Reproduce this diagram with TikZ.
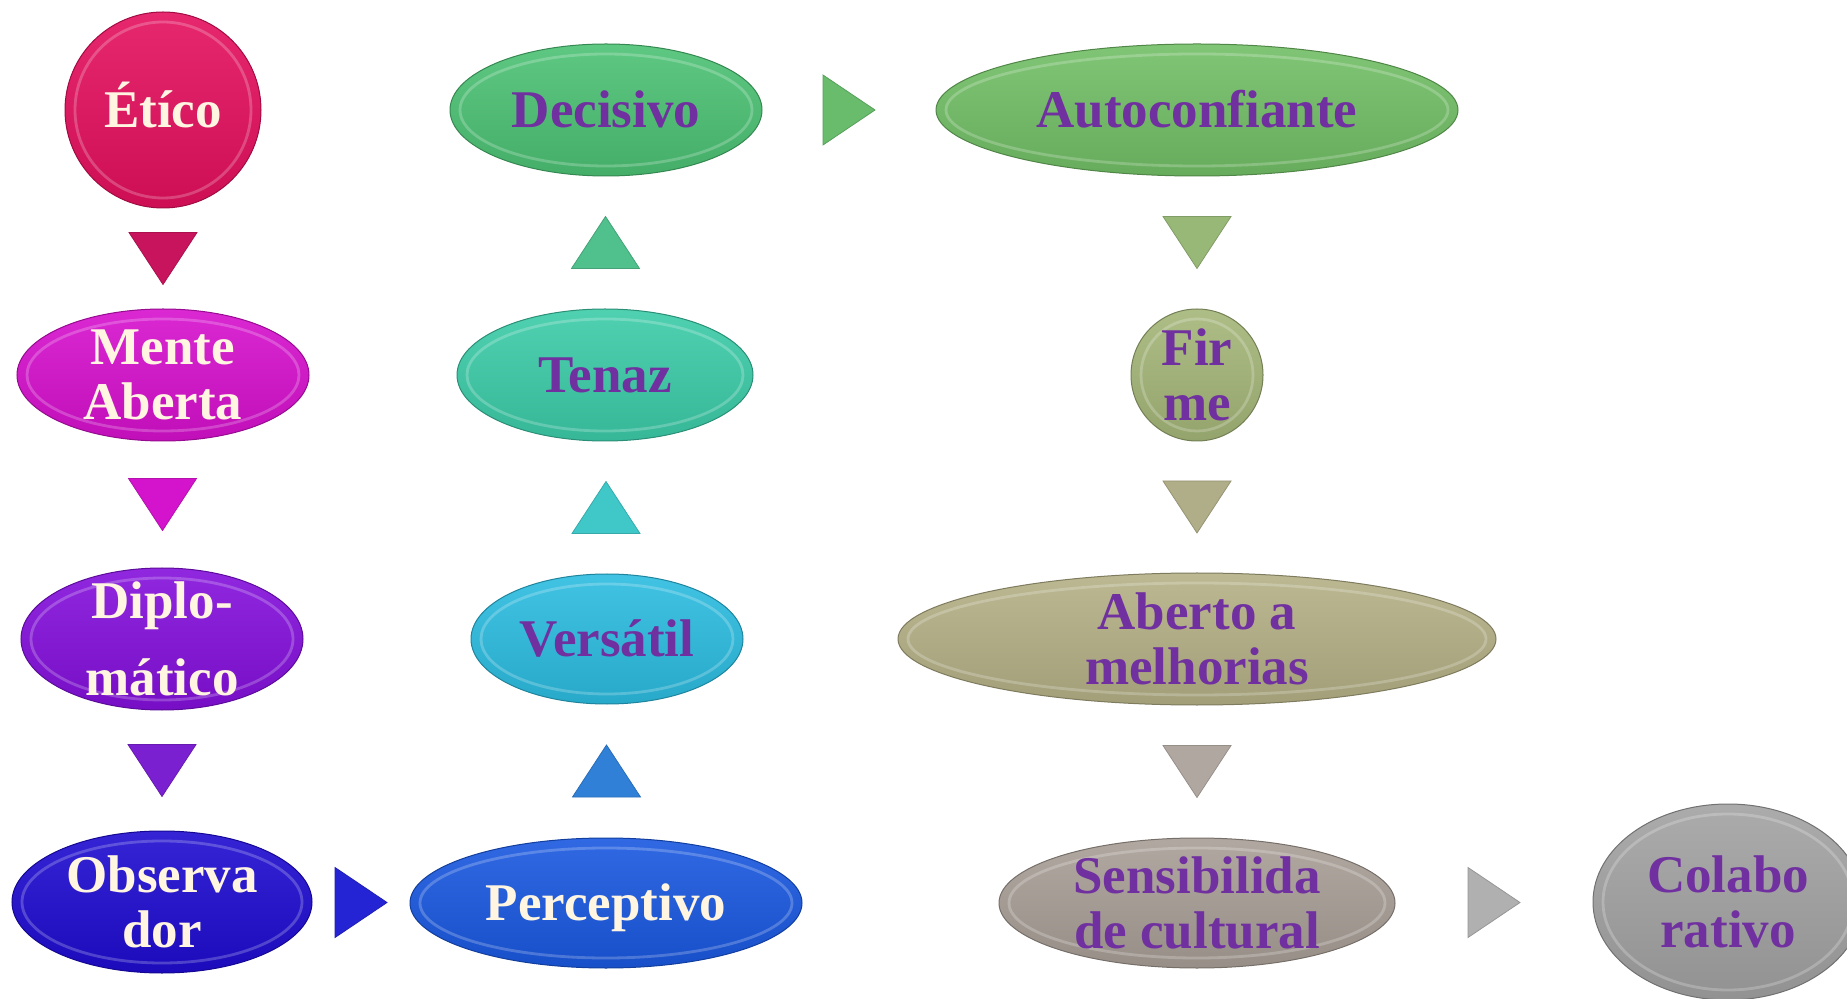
\documentclass[tikz,border=0pt]{standalone}
\usepackage{fontspec}
\setmainfont{Liberation Serif}
\usetikzlibrary{shapes.geometric,calc}
\definecolor{cEtico}{HTML}{E4105E}
\definecolor{cMente}{HTML}{D610CE}
\definecolor{cDiplo}{HTML}{8410DC}
\definecolor{cObs}{HTML}{1E0CD0}
\definecolor{cPerc}{HTML}{1A58E0}
\definecolor{cVers}{HTML}{2CBCE0}
\definecolor{cTenaz}{HTML}{3CCCA8}
\definecolor{cDecis}{HTML}{4CC274}
\definecolor{cAuto}{HTML}{72BF66}
\definecolor{cFirme}{HTML}{A4B678}
\definecolor{cAberto}{HTML}{B4B086}
\definecolor{cSens}{HTML}{A89E96}
\definecolor{cColab}{HTML}{A2A2A2}
\definecolor{tA}{HTML}{C8145C}
\definecolor{tB}{HTML}{D414CC}
\definecolor{tC}{HTML}{7A20D0}
\definecolor{tD}{HTML}{2424D4}
\definecolor{tE}{HTML}{3080D8}
\definecolor{tF}{HTML}{40C8C8}
\definecolor{tG}{HTML}{50C08C}
\definecolor{tH}{HTML}{68BC6C}
\definecolor{tI}{HTML}{98B878}
\definecolor{tJ}{HTML}{B0AE88}
\definecolor{tK}{HTML}{B0A8A0}
\definecolor{tL}{HTML}{B0B0B0}
\definecolor{cream}{HTML}{FFF5E1}
\definecolor{purp}{HTML}{7030A0}
\tikzset{
  bead/.style={ellipse, inner sep=0pt, outer sep=0pt, draw=#1!70!black, line width=0.5pt,
    top color=#1!90!white, middle color=#1, bottom color=#1!90!black,
    path picture={\draw[white, opacity=0.22, line width=1.4pt]
      let \p1=(path picture bounding box.south west), \p2=(path picture bounding box.north east) in
      (path picture bounding box.center) ellipse [x radius={0.5*abs(\x2-\x1)-5pt}, y radius={0.5*abs(\y2-\y1)-5pt}];}},
  txt/.style={font=\fontsize{26.5}{27.5}\selectfont\bfseries, align=center, inner sep=0pt, text=#1},
  txtone/.style={txt=#1, text height=17.5pt, text depth=0pt},
  pics/tridown/.style={code={\fill[#1, draw=#1!85!black, line width=0.4pt] (-34,-26) -- (34,-26) -- (0,26) -- cycle;}},
  pics/triup/.style={code={\fill[#1, draw=#1!85!black, line width=0.4pt] (-34,26) -- (34,26) -- (0,-26) -- cycle;}},
  pics/triright/.style={code={\fill[#1, draw=#1!85!black, line width=0.4pt] (-26,-35) -- (-26,35) -- (26,0) -- cycle;}},
}
\begin{document}
\begin{tikzpicture}[x=0.5pt,y=-0.5pt]
\useasboundingbox (0,0) rectangle (1847,999);
\clip (0,0) rectangle (1847,999);
% column 1
\node[bead=cEtico, minimum width=98pt, minimum height=98pt] (etico) at (163,110) {};
\node[txtone=cream] (etico-t) at (etico) {Étíco};
\node[bead=cMente, minimum width=146pt, minimum height=66pt] (mente) at (163,375) {};
\node[txt=cream] (mente-t) at (mente) {Mente\\Aberta};
\node[bead=cDiplo, minimum width=141pt, minimum height=71pt] (diplo) at (162,639) {};
\node[txt=cream] (diplo-t) at (diplo) {Diplo-\\[11pt]mático};
\node[bead=cObs, minimum width=150pt, minimum height=71pt] (obs) at (162,902) {};
\node[txt=cream] (obs-t) at (obs) {Observa\\dor};
% column 2
\node[bead=cPerc, minimum width=196pt, minimum height=65pt] (perc) at (606,903) {};
\node[txtone=cream] (perc-t) at (perc) {Perceptivo};
\node[bead=cVers, minimum width=136pt, minimum height=65pt] (vers) at (607,639) {};
\node[txtone=purp] (vers-t) at (vers) {Versátil};
\node[bead=cTenaz, minimum width=148pt, minimum height=66pt] (tenaz) at (605,375) {};
\node[txtone=purp] (tenaz-t) at (tenaz) {Tenaz};
\node[bead=cDecis, minimum width=156pt, minimum height=66pt] (decis) at (606,110) {};
\node[txtone=purp] (decis-t) at (decis) {Decisivo};
% column 3
\node[bead=cAuto, minimum width=261pt, minimum height=66pt] (auto) at (1197,110) {};
\node[txtone=purp] (auto-t) at (auto) {Autoconfiante};
\node[bead=cFirme, minimum width=66pt, minimum height=66pt] (firme) at (1197,375) {};
\node[txt=purp] (firme-t) at (firme) {Fir\\me};
\node[bead=cAberto, minimum width=299pt, minimum height=66pt] (aberto) at (1197,639) {};
\node[txt=purp] (aberto-t) at (aberto) {Aberto a\\melhorias};
\node[bead=cSens, minimum width=198pt, minimum height=65pt] (sens) at (1197,903) {};
\node[txt=purp] (sens-t) at (sens) {Sensibilida\\de cultural};
\node[bead=cColab, minimum width=135pt, minimum height=98pt] (colab) at (1728,902) {};
\node[txt=purp] (colab-t) at (colab) {Colabo\\rativo};
% connectors (triangles)
\pic at ($(etico.south)!0.5!(mente.north)$) {tridown=tA};
\pic at ($(mente.south)!0.5!(diplo.north)$) {tridown=tB};
\pic at ($(diplo.south)!0.5!(obs.north)$) {tridown=tC};
\pic at ($(obs.east)!0.5!(perc.west)$) {triright=tD};
\pic at ($(perc.north)!0.5!(vers.south)$) {triup=tE};
\pic at ($(vers.north)!0.5!(tenaz.south)$) {triup=tF};
\pic at ($(tenaz.north)!0.5!(decis.south)$) {triup=tG};
\pic at ($(decis.east)!0.5!(auto.west)$) {triright=tH};
\pic at ($(auto.south)!0.5!(firme.north)$) {tridown=tI};
\pic at ($(firme.south)!0.5!(aberto.north)$) {tridown=tJ};
\pic at ($(aberto.south)!0.5!(sens.north)$) {tridown=tK};
\pic at ($(sens.east)!0.5!(colab.west)$) {triright=tL};
\end{tikzpicture}
\end{document}
